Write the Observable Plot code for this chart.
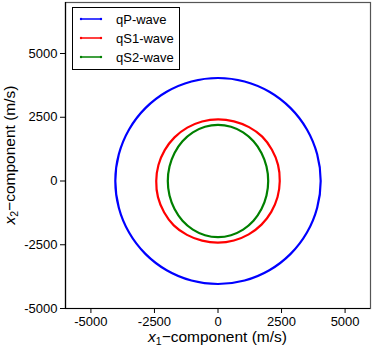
<!DOCTYPE html>
<html>
<head>
<meta charset="utf-8">
<script src="https://cdn.jsdelivr.net/npm/d3@7"></script>
<script src="https://cdn.jsdelivr.net/npm/@observablehq/plot@0.6"></script>
<style>
  html, body { margin: 0; padding: 0; background: #fff; }
  #chart { width: 374px; height: 352px; }
</style>
</head>
<body>
<div id="chart"></div>
<script>
const seriesNames = ["qP-wave", "qS1-wave", "qS2-wave"];
const seriesColors = ["#0000ff", "#ff0000", "#008000"];
const xTicks = [-5000, -2500, 0, 2500, 5000];
const yTicks = [-5000, -2500, 0, 2500, 5000];

const qpX = [4040, 3902, 3499, 2857, 2020, 1046, 0, -1046, -2020, -2857, -3499, -3902, -4040, -3902, -3499, -2857, -2020, -1046, 0, 1046, 2020, 2857, 3499, 3902];
const qpY = [0, 1046, 2020, 2857, 3499, 3902, 4040, 3902, 3499, 2857, 2020, 1046, 0, -1046, -2020, -2857, -3499, -3902, -4040, -3902, -3499, -2857, -2020, -1046];

const qs1X = [2430, 2362, 2122, 1740, 1220, 627, 0, -625, -1208, -1711, -2096, -2343, -2430, -2362, -2122, -1740, -1220, -627, 0, 625, 1208, 1711, 2096, 2343];
const qs1Y = [0, 633, 1225, 1740, 2113, 2340, 2420, 2333, 2092, 1711, 1210, 628, 0, -633, -1225, -1740, -2113, -2340, -2420, -2333, -2092, -1711, -1210, -628];

const qs2X = [1975, 1908, 1710, 1397, 988, 511, 0, -511, -988, -1397, -1710, -1908, -1975, -1908, -1710, -1397, -988, -511, 0, 511, 988, 1397, 1710, 1908];
const qs2Y = [0, 569, 1100, 1556, 1905, 2125, 2200, 2125, 1905, 1556, 1100, 569, 0, -569, -1100, -1556, -1905, -2125, -2200, -2125, -1905, -1556, -1100, -569];

const toRows = (xs, ys, name) => xs.map((x, i) => ({x, y: ys[i], wave: name}));
const rows = [
  ...toRows(qpX, qpY, seriesNames[0]),
  ...toRows(qs1X, qs1Y, seriesNames[1]),
  ...toRows(qs2X, qs2Y, seriesNames[2])
];

const font = "'Liberation Sans', Arial, Helvetica, sans-serif";

const plot = Plot.plot({
  width: 374,
  height: 352,
  marginLeft: 65,
  marginRight: 4,
  marginTop: 2,
  marginBottom: 44,
  style: {fontFamily: font, fontSize: "13px", color: "#000", background: "#fff"},
  x: {domain: [-6000, 6000]},
  y: {domain: [-5000, 7000]},
  color: {domain: seriesNames, range: seriesColors},
  marks: [
    Plot.frame({stroke: "#555", strokeWidth: 1.2}),
    Plot.line(rows, {x: "x", y: "y", z: "wave", stroke: "wave", strokeWidth: 2.2, curve: "catmull-rom-closed"}),
    Plot.ruleX([-6000], {stroke: "#000", strokeWidth: 1.2}),
    Plot.ruleY([-5000], {stroke: "#000", strokeWidth: 1.2}),
    Plot.axisX({ticks: xTicks, tickSize: 5, tickPadding: 3, label: null, fontSize: 13, tickFormat: d => String(d).replace("−", "-")}),
    Plot.axisY({ticks: yTicks, tickSize: 5, tickPadding: 3, label: null, fontSize: 13, tickFormat: d => String(d).replace("−", "-")})
  ]
});

document.getElementById("chart").appendChild(plot);
const svg = d3.select(plot);

// axis labels
const xl = svg.append("text")
  .attr("x", 217.5).attr("y", 342)
  .attr("text-anchor", "middle")
  .attr("font-family", font).attr("font-size", 15.5).attr("fill", "#000");
xl.append("tspan").attr("font-style", "italic").text("x");
xl.append("tspan").attr("font-size", 10.5).attr("dy", 3).text("1");
xl.append("tspan").attr("dy", -3).text("\u2212component (m/s)");

const yl = svg.append("text")
  .attr("transform", "translate(15,155) rotate(-90)")
  .attr("text-anchor", "middle")
  .attr("font-family", font).attr("font-size", 15.5).attr("fill", "#000");
yl.append("tspan").attr("font-style", "italic").text("x");
yl.append("tspan").attr("font-size", 10.5).attr("dy", 3).text("2");
yl.append("tspan").attr("dy", -3).text("\u2212component (m/s)");

// legend
const lg = svg.append("g");
lg.append("rect").attr("x", 72.5).attr("y", 7.5).attr("width", 107).attr("height", 62)
  .attr("fill", "#fff").attr("stroke", "#000").attr("stroke-width", 1);
seriesNames.forEach((name, i) => {
  const yy = 19 + i * 19;
  lg.append("line").attr("x1", 81).attr("x2", 101).attr("y1", yy).attr("y2", yy)
    .attr("stroke", seriesColors[i]).attr("stroke-width", 1.5);
  lg.append("circle").attr("cx", 81).attr("cy", yy).attr("r", 1.2).attr("fill", seriesColors[i]);
  lg.append("circle").attr("cx", 101).attr("cy", yy).attr("r", 1.2).attr("fill", seriesColors[i]);
  lg.append("text").attr("x", 116).attr("y", yy + 4.5)
    .attr("text-anchor", "start")
    .attr("font-family", font).attr("font-size", 13).attr("fill", "#000").text(name);
});
</script>
</body>
</html>
